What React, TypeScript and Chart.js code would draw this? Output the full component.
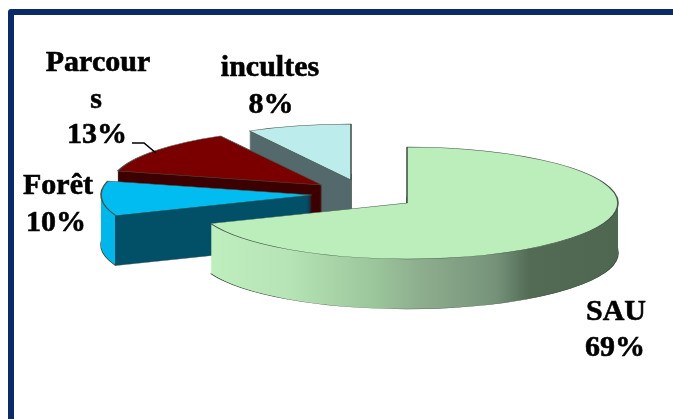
import React, { useEffect, useRef } from "react";
import { Chart, registerables } from "chart.js";

Chart.register(...registerables);

const categories = ["SAU", "Forêt", "Parcours", "incultes"];
const shares = [69, 10, 13, 8];
const labelLines = [["SAU"], ["Forêt"], ["Parcour", "s"], ["incultes"]];

// Styling of the 3D look
const topColors = ["#bbeebb", "#00bcf0", "#7a0000", "#bcecec"];
const wallStops: [number, string][][] = [
  [[0.03, "#bfeebf"], [0.22, "#b6e4b6"], [0.43, "#9ac49a"], [0.52, "#8fb08f"], [0.71, "#76937a"], [0.79, "#536b54"], [1, "#4f6650"]],
  [[0.032, "#00b6ea"], [0.034, "#024f68"], [1, "#024f68"]],
  [[0, "#3c0000"], [1, "#3c0000"]],
  [[0, "#54696b"], [1, "#54696b"]],
];
const explode = [[-1, 0], [-96, -8], [-86, -18], [-57, -23]];
const drawOrder = [3, 2, 1, 0];
const squash = 56 / 211;
const depth = 50;

const labelLayout = [
  [[616, 320], [615, 356]],
  [[58, 194], [56, 231]],
  [[98, 71], [96, 108], [97, 143]],
  [[270, 76], [271, 113]],
];

const pie3d = {
  id: "pie3d",
  beforeDatasetDraw(chart: any) {
    const ctx = chart.ctx;
    const arcs = chart.getDatasetMeta(0).data;
    for (const i of drawOrder) {
      const arc = arcs[i];
      const opts = arc.options;
      const r = arc.outerRadius;
      const grad = ctx.createLinearGradient(arc.x - r, 0, arc.x + r, 0);
      wallStops[i].forEach(([p, c]) => grad.addColorStop(p, c));
      const place = (d: number) => {
        ctx.save();
        ctx.translate(arc.x + explode[i][0], arc.y + explode[i][1] + d);
        ctx.scale(1, squash);
        ctx.translate(-arc.x, -arc.y);
      };
      for (let d = depth; d >= 1; d -= 0.5) {
        place(d);
        arc.options = d === depth
          ? { ...opts, backgroundColor: grad, borderColor: "#3a4a3a", borderWidth: 1.6 }
          : { ...opts, backgroundColor: grad, borderWidth: 0 };
        arc.draw(ctx);
        ctx.restore();
      }
      place(0);
      arc.options = { ...opts, backgroundColor: topColors[i], borderColor: "#46564a", borderWidth: 1.6 };
      arc.draw(ctx);
      ctx.restore();
      arc.options = opts;
    }
    return false;
  },
  afterDraw(chart: any) {
    const ctx = chart.ctx;
    ctx.save();
    ctx.fillStyle = "#000";
    ctx.strokeStyle = "#000";
    ctx.lineWidth = 0.6;
    ctx.font = 'bold 30px "Liberation Serif"';
    ctx.textAlign = "center";
    ctx.textBaseline = "alphabetic";
    categories.forEach((_, i) => {
      const lines = [...labelLines[i], shares[i] + "%"];
      lines.forEach((t, j) => {
        ctx.fillText(t, labelLayout[i][j][0], labelLayout[i][j][1]);
        ctx.strokeText(t, labelLayout[i][j][0], labelLayout[i][j][1]);
      });
    });
    ctx.lineWidth = 1.6;
    ctx.beginPath();
    ctx.moveTo(132, 143);
    ctx.lineTo(144, 143);
    ctx.lineTo(156, 153);
    ctx.stroke();
    ctx.restore();
  },
};

export default function App() {
  const ref = useRef<HTMLCanvasElement>(null);
  useEffect(() => {
    const chart = new Chart(ref.current!, {
      type: "pie",
      data: {
        labels: categories,
        datasets: [{ data: shares, backgroundColor: topColors, borderWidth: 0 }],
      },
      options: {
        animation: false,
        responsive: false,
        devicePixelRatio: 1,
        radius: 211,
        layout: { padding: { left: 143, bottom: 13 } },
        plugins: { legend: { display: false }, tooltip: { enabled: false } },
      } as any,
      plugins: [pie3d as any],
    });
    return () => chart.destroy();
  }, []);
  return (
    <div style={{ position: "fixed", left: 0, top: 0, width: 673, height: 419, overflow: "hidden", background: "#fff" }}>
      <canvas ref={ref} width={673} height={419} style={{ position: "absolute", left: 0, top: 0, filter: "blur(0.4px)" }} />
      <div style={{ position: "absolute", left: 8, top: 9, width: 700, height: 450, border: "6px solid #0b2a68", borderRadius: 3, pointerEvents: "none" }} />
    </div>
  );
}
